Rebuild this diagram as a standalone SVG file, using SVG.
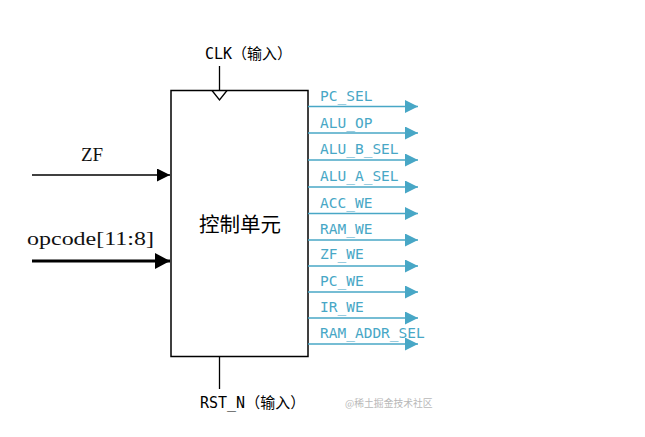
<svg xmlns="http://www.w3.org/2000/svg" width="645" height="437" viewBox="0 0 645 437">
  <defs>
    <marker id="tealHead" markerWidth="14" markerHeight="14" refX="13" refY="6.5" orient="auto" markerUnits="userSpaceOnUse">
      <path d="M0,0 L13,6.5 L0,13 Z" fill="#48a7c6"/>
    </marker>
    <marker id="blackHead" markerWidth="14" markerHeight="14" refX="13" refY="6.5" orient="auto" markerUnits="userSpaceOnUse">
      <path d="M0,0 L13,6.5 L0,13 Z" fill="#000"/>
    </marker>
    <marker id="busHead" markerWidth="16" markerHeight="16" refX="15" refY="8" orient="auto" markerUnits="userSpaceOnUse">
      <path d="M0,0 L15,8 L0,16 Z" fill="#000"/>
    </marker>
  </defs>
  <style>
    .sig { stroke: #48a7c6; stroke-width: 1.6; fill: none; marker-end: url(#tealHead); }
    .sigText { font-family: "DejaVu Sans Mono", "Liberation Mono", monospace; font-size: 14.5px; fill: #48a7c6; }
    .pin { font-family: "DejaVu Sans Mono", "Noto Sans CJK SC", monospace; font-size: 15px; fill: #000; }
    .inText { font-family: "Liberation Serif", "Noto Sans CJK SC", serif; font-size: 19px; fill: #111; }
  </style>
  <rect width="645" height="437" fill="#fff"/>

  <!-- control unit block -->
  <g id="control-unit">
    <rect x="171" y="90.5" width="137" height="266" fill="#fff" stroke="#000" stroke-width="1.5"/>
    <path d="M212,90.5 L219.5,100 L227,90.5" fill="none" stroke="#000" stroke-width="1.3"/>
    <text x="240" y="232" text-anchor="middle" font-family="Noto Sans CJK SC, sans-serif" font-size="20.5" fill="#000">控制单元</text>
  </g>

  <!-- clock and reset pins -->
  <g id="clk">
    <text class="pin" x="205" y="59">CLK（输入）</text>
  </g>
  <g id="rst">
    <text class="pin" x="200" y="408">RST_N（输入）</text>
  </g>

  <!-- inputs -->
  <g id="zf-in">
    <text class="inText" x="81" y="161">ZF</text>
  </g>
  <g id="opcode-in">
    <text class="inText" x="27" y="245" textLength="127" lengthAdjust="spacingAndGlyphs">opcode[11:8]</text>
  </g>

  <!-- connectors -->
  <g id="connectors">
    <line x1="219.5" y1="66" x2="219.5" y2="90.5" stroke="#000" stroke-width="1.3"/>
    <line x1="219.5" y1="356.5" x2="219.5" y2="389" stroke="#000" stroke-width="1.3"/>
    <line x1="32" y1="175" x2="170" y2="175" stroke="#000" stroke-width="1.5" marker-end="url(#blackHead)"/>
    <line x1="32" y1="261" x2="170" y2="261" stroke="#000" stroke-width="3.2" marker-end="url(#busHead)"/>
    <line class="sig" x1="308" y1="106.5" x2="418" y2="106.5"/>
    <line class="sig" x1="308" y1="133" x2="418" y2="133"/>
    <line class="sig" x1="308" y1="160" x2="418" y2="160"/>
    <line class="sig" x1="308" y1="187" x2="418" y2="187"/>
    <line class="sig" x1="308" y1="213.5" x2="418" y2="213.5"/>
    <line class="sig" x1="308" y1="240" x2="418" y2="240"/>
    <line class="sig" x1="308" y1="266" x2="418" y2="266"/>
    <line class="sig" x1="308" y1="292" x2="418" y2="292"/>
    <line class="sig" x1="308" y1="318" x2="418" y2="318"/>
    <line class="sig" x1="308" y1="344" x2="418" y2="344"/>
  </g>

  <!-- output signal labels -->
  <g id="outputs">
    <text class="sigText" x="320" y="101">PC_SEL</text>
    <text class="sigText" x="320" y="128">ALU_OP</text>
    <text class="sigText" x="320" y="154">ALU_B_SEL</text>
    <text class="sigText" x="320" y="181">ALU_A_SEL</text>
    <text class="sigText" x="320" y="208">ACC_WE</text>
    <text class="sigText" x="320" y="234">RAM_WE</text>
    <text class="sigText" x="320" y="259">ZF_WE</text>
    <text class="sigText" x="320" y="286">PC_WE</text>
    <text class="sigText" x="320" y="312">IR_WE</text>
    <text class="sigText" x="320" y="338">RAM_ADDR_SEL</text>
  </g>

  <text x="345" y="407" font-family="Noto Sans CJK SC, sans-serif" font-size="9.8" fill="#b8b8b8">@稀土掘金技术社区</text>
</svg>
